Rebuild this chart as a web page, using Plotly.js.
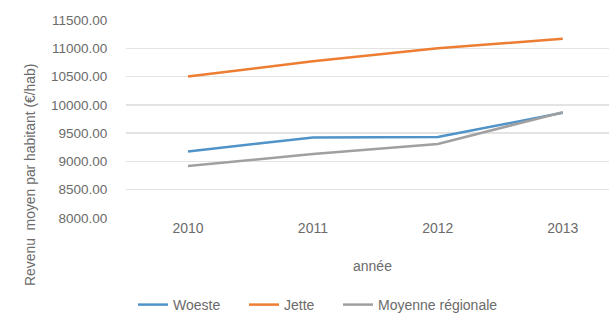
<!DOCTYPE html>
<html><head><meta charset="utf-8">
<script src="https://cdn.plot.ly/plotly-3.0.1.min.js"></script>
<style>html,body{margin:0;padding:0;background:#fff;}#chart{width:609px;height:321px;}</style>
</head><body><div id="chart"></div>
<script>
const years = [2010, 2011, 2012, 2013];
const woeste = [9175, 9425, 9430, 9860];
const jette = [10500, 10770, 11000, 11170];
const moyenne = [8920, 9130, 9310, 9870];
const yTicks = [8000, 8500, 9000, 9500, 10000, 10500, 11000, 11500];
const yTickLabels = yTicks.map(v => v.toFixed(2));

const txt = '#6b6b6b';
const font = {family: 'Liberation Sans, Arial, sans-serif', size: 13.5, color: txt};
const traces = [
  {x: years, y: woeste, name: 'Woeste', mode: 'lines', line: {color: '#4f93c8', width: 2.5}, legend: 'legend'},
  {x: years, y: jette, name: 'Jette', mode: 'lines', line: {color: '#ec7d32', width: 2.5}, legend: 'legend2'},
  {x: years, y: moyenne, name: 'Moyenne régionale', mode: 'lines', line: {color: '#a0a0a0', width: 2.5}, legend: 'legend3'}
];
const L = 126, W = 483, B = 219.3, H = 199.3;
const px = p => (p - L) / W;
const py = p => (B - p) / H;
const legBase = {orientation: 'h', xanchor: 'left', yanchor: 'middle', y: py(307),
                 font: {size: 14, color: txt}, bgcolor: 'rgba(0,0,0,0)'};
const layout = {
  width: 609, height: 321,
  margin: {l: L, r: 0, t: 20, b: 102},
  paper_bgcolor: '#fff', plot_bgcolor: '#fff',
  font: font,
  showlegend: true,
  legend: Object.assign({}, legBase, {x: px(140 - 7)}),
  legend2: Object.assign({}, legBase, {x: px(251 - 7)}),
  legend3: Object.assign({}, legBase, {x: px(345 - 7)}),
  xaxis: {range: [2009.504, 2013.37], tickvals: years, ticktext: years.map(String),
          showgrid: false, zeroline: false, showline: false, ticks: '',
          tickfont: {size: 14, color: txt}},
  yaxis: {range: [8000, 11500], tickvals: yTicks, ticktext: yTickLabels,
          showgrid: true, gridcolor: '#e3e3e3', gridwidth: 1.5, zeroline: false, showline: false,
          ticks: 'outside', ticklen: 15, tickcolor: 'rgba(0,0,0,0)',
          tickfont: {size: 13.5, color: txt}},
  annotations: [
    {text: 'année', xref: 'paper', yref: 'paper', x: px(372), y: py(268),
     xanchor: 'center', yanchor: 'middle', showarrow: false, font: {size: 14, color: txt}},
    {text: 'Revenu  moyen par habitant (€/hab)', xref: 'paper', yref: 'paper', x: px(30), y: py(176),
     xanchor: 'center', yanchor: 'middle', textangle: -90, showarrow: false, font: {size: 13.9, color: txt}}
  ]
};
Plotly.newPlot('chart', traces, layout, {displayModeBar: false, staticPlot: true});
</script></body></html>
